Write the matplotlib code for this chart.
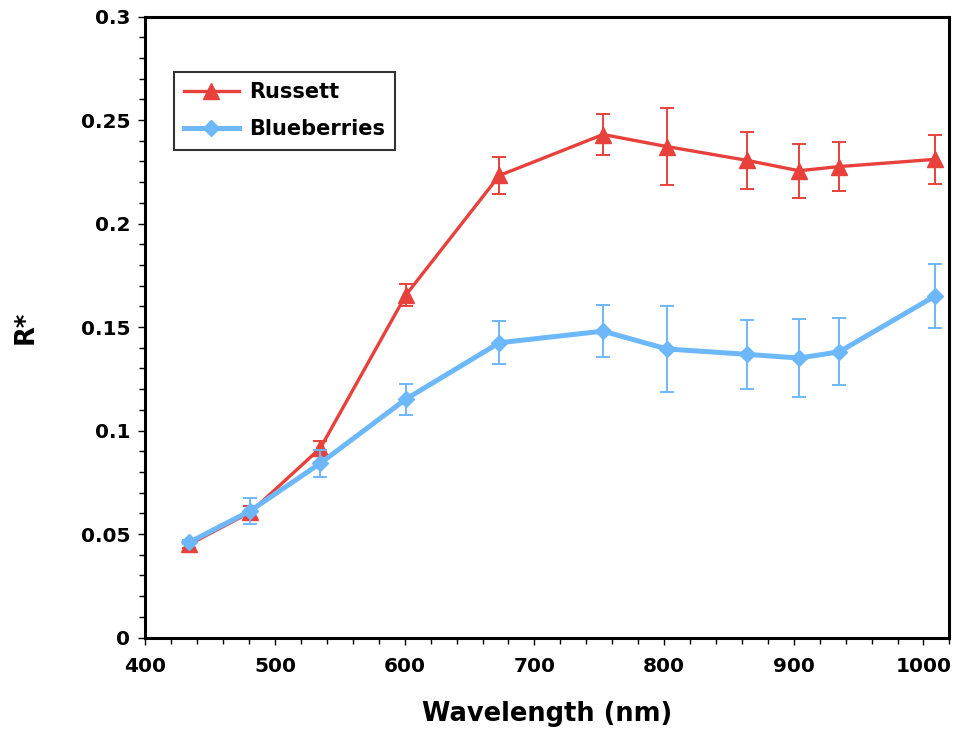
import numpy as np
import matplotlib
matplotlib.use("Agg")
import matplotlib.pyplot as plt
from matplotlib.ticker import MultipleLocator, FuncFormatter

# wavelengths (nm)
wavelength = [434, 481, 535, 601, 673, 753, 802, 864, 904, 935, 1009]

# Russett reflectance and error
russett = [0.045, 0.0605, 0.0915, 0.1655, 0.2232, 0.2430, 0.2372, 0.2305, 0.2255, 0.2275, 0.2310]
russett_err = [0.002, 0.003, 0.0035, 0.0055, 0.0090, 0.0100, 0.0185, 0.0138, 0.0130, 0.0120, 0.0120]

# Blueberries reflectance and error
blueberries = [0.0460, 0.0612, 0.0842, 0.1152, 0.1424, 0.1480, 0.1394, 0.1368, 0.1350, 0.1380, 0.1650]
blueberries_err = [0.001, 0.0063, 0.0065, 0.0075, 0.0105, 0.0125, 0.0207, 0.0168, 0.0188, 0.0162, 0.0153]

red = '#E8413C'
blue = '#6CB8FA'

plt.rcParams['font.family'] = 'DejaVu Sans'
plt.rcParams['font.weight'] = 'bold'

fig = plt.figure(figsize=(9.59, 7.31), dpi=100)
ax = fig.add_axes([0.1515, 0.1279, 0.8385, 0.8495])

r = ax.errorbar(wavelength, russett, yerr=russett_err, color=red, lw=2.4,
                marker='^', ms=12, elinewidth=1.4, capsize=5, capthick=1.4,
                zorder=3)
b = ax.errorbar(wavelength, blueberries, yerr=blueberries_err, color=blue, lw=3.6,
                marker='D', ms=8.5, elinewidth=1.4, capsize=5, capthick=1.4,
                zorder=4)

ax.set_xlim(400, 1020)
ax.set_ylim(0, 0.3)
ax.xaxis.set_major_locator(MultipleLocator(100))
ax.xaxis.set_minor_locator(MultipleLocator(20))
ax.yaxis.set_major_locator(MultipleLocator(0.05))
ax.yaxis.set_minor_locator(MultipleLocator(0.01))
ax.yaxis.set_major_formatter(FuncFormatter(lambda v, p: '0' if v == 0 else ('%g' % round(v, 2))))

ax.tick_params(which='both', direction='out', width=1.0, labelsize=14.5)
ax.tick_params(axis='x', pad=9)
ax.tick_params(axis='y', pad=6)
ax.tick_params(which='major', length=5)
ax.tick_params(which='minor', length=4)
for lab in ax.get_xticklabels() + ax.get_yticklabels():
    lab.set_fontweight('bold')

for s in ax.spines.values():
    s.set_linewidth(2.2)
    s.set_color('black')

ax.set_xlabel('Wavelength (nm)', fontsize=18.5, fontweight='bold', labelpad=18)
ax.set_ylabel('R*', fontsize=18.5, fontweight='bold', labelpad=30)

leg = ax.legend([r.lines[0], b.lines[0]], ['Russett', 'Blueberries'],
                loc='upper left', bbox_to_anchor=(0.0357, 0.9106), fontsize=15,
                frameon=True, fancybox=False, edgecolor='black',
                handlelength=2.6, handletextpad=0.5, borderpad=0.5,
                labelspacing=0.8, borderaxespad=0)
leg.get_frame().set_linewidth(1.5)
for t in leg.get_texts():
    t.set_fontweight('bold')

fig.savefig('out.png', dpi=100)
